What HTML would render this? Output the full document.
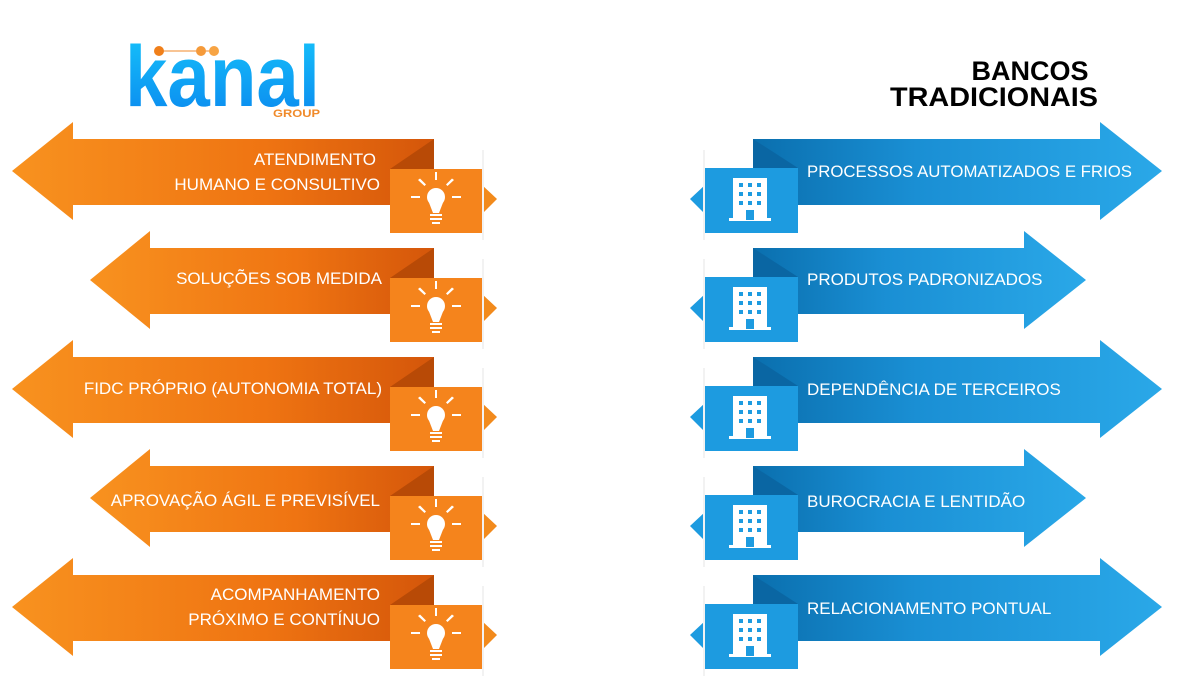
<!DOCTYPE html>
<html><head><meta charset="utf-8"><style>
html,body{margin:0;padding:0;background:#fff;width:1200px;height:700px;overflow:hidden}
svg{display:block}
text{font-family:"Liberation Sans",sans-serif}
</style></head><body>
<svg width="1200" height="700" viewBox="0 0 1200 700" xmlns="http://www.w3.org/2000/svg">
<defs>
<linearGradient id="og" x1="0" x2="1" y1="0" y2="0"><stop offset="0" stop-color="#f8921f"/><stop offset="0.6" stop-color="#ef7412"/><stop offset="1" stop-color="#d4560a"/></linearGradient>
<linearGradient id="bg" x1="0" x2="1" y1="0" y2="0"><stop offset="0" stop-color="#0a6fae"/><stop offset="0.4" stop-color="#1a8fd4"/><stop offset="1" stop-color="#2aa8e8"/></linearGradient>
<linearGradient id="lg" x1="0" x2="0" y1="0" y2="1"><stop offset="0" stop-color="#16c4fb"/><stop offset="1" stop-color="#0a86ee"/></linearGradient>
<g id="bulb" fill="#fff">
 <circle cx="436" cy="197" r="9"/>
 <path d="M428 200 L433 213 L439 213 L444 200 Z"/>
 <rect x="430" y="214" width="12" height="2"/><rect x="430" y="218" width="12" height="2"/><rect x="432" y="222" width="8" height="2"/>
 <rect x="435" y="172" width="2" height="8"/>
 <rect x="411" y="196" width="9" height="2"/><rect x="452" y="196" width="9" height="2"/>
 <path d="M418 180 l2 -1.5 l6 6 l-1.5 1.5 Z"/><path d="M454 180 l-2 -1.5 l-6 6 l1.5 1.5 Z"/>
</g>
<g id="bld" fill="#fff">
 <rect x="733" y="178" width="34" height="42"/><rect x="729" y="218" width="42" height="3"/>
</g>
<g id="win" fill="#1d9be0">
 <rect x="739" y="183" width="4" height="4"/><rect x="748" y="183" width="4" height="4"/><rect x="757" y="183" width="4" height="4"/>
 <rect x="739" y="192" width="4" height="4"/><rect x="748" y="192" width="4" height="4"/><rect x="757" y="192" width="4" height="4"/>
 <rect x="739" y="201" width="4" height="4"/><rect x="748" y="201" width="4" height="4"/><rect x="757" y="201" width="4" height="4"/>
 <rect x="746" y="210" width="8" height="10"/>
</g>
<g id="lbox">
 <path d="M434 139 L434 169 L390 169 Z" fill="#b84a06"/>
 <path d="M482 185 L497 199 L482 214 Z" fill="#f28a1c"/>
 <rect x="390" y="169" width="92" height="64" fill="#f5841c"/>
 <rect x="482" y="150" width="2" height="90" fill="#f2f2f2"/>
 <use href="#bulb"/>
</g>
<g id="rbox">
 <path d="M753 139 L753 168 L798 168 Z" fill="#0a66a3"/>
 <path d="M705 185 L690 199 L705 214 Z" fill="#1d9be0"/>
 <rect x="705" y="168" width="93" height="65" fill="#1d9be0"/>
 <rect x="703" y="150" width="2" height="90" fill="#f2f2f2"/>
 <use href="#bld"/><use href="#win"/>
</g>
</defs>

<text x="125" y="106" font-size="86" font-weight="bold" fill="url(#lg)" textLength="195" lengthAdjust="spacingAndGlyphs">kanal</text>
<line x1="159" y1="51" x2="214" y2="51" stroke="#f08a2a" stroke-width="1"/>
<circle cx="159" cy="51" r="5" fill="#f07f1a"/><circle cx="201" cy="51" r="5" fill="#f59a3a"/><circle cx="214" cy="51" r="5" fill="#f7a444"/>
<text x="273" y="117" font-size="11" font-weight="bold" fill="#f08a2a" textLength="47" lengthAdjust="spacingAndGlyphs">GROUP</text>

<text x="1030" y="80" font-size="27" font-weight="bold" fill="#000" text-anchor="middle">BANCOS</text>
<text x="994" y="106" font-size="27" font-weight="bold" fill="#000" text-anchor="middle" textLength="208" lengthAdjust="spacingAndGlyphs">TRADICIONAIS</text>

<g>
<path d="M12 171 L73 122 L73 139 L434 139 L434 205 L73 205 L73 220 Z" fill="url(#og)"/>
<use href="#lbox"/>
</g>
<g transform="translate(0,109)">
<path d="M90 171 L150 122 L150 139 L434 139 L434 205 L150 205 L150 220 Z" fill="url(#og)"/>
<use href="#lbox"/>
</g>
<g transform="translate(0,218)">
<path d="M12 171 L73 122 L73 139 L434 139 L434 205 L73 205 L73 220 Z" fill="url(#og)"/>
<use href="#lbox"/>
</g>
<g transform="translate(0,327)">
<path d="M90 171 L150 122 L150 139 L434 139 L434 205 L150 205 L150 220 Z" fill="url(#og)"/>
<use href="#lbox"/>
</g>
<g transform="translate(0,436)">
<path d="M12 171 L73 122 L73 139 L434 139 L434 205 L73 205 L73 220 Z" fill="url(#og)"/>
<use href="#lbox"/>
</g>

<g fill="#fff" font-size="17" text-anchor="end">
<text x="376" y="165">ATENDIMENTO</text>
<text x="380" y="190">HUMANO E CONSULTIVO</text>
<text x="382" y="284">SOLUÇÕES SOB MEDIDA</text>
<text x="382" y="394">FIDC PRÓPRIO (AUTONOMIA TOTAL)</text>
<text x="380" y="506">APROVAÇÃO ÁGIL E PREVISÍVEL</text>
<text x="380" y="600">ACOMPANHAMENTO</text>
<text x="380" y="625">PRÓXIMO E CONTÍNUO</text>
</g>

<g>
<path d="M753 139 L1100 139 L1100 122 L1162 171 L1100 220 L1100 205 L753 205 Z" fill="url(#bg)"/>
<use href="#rbox"/>
</g>
<g transform="translate(0,109)">
<path d="M753 139 L1024 139 L1024 122 L1086 171 L1024 220 L1024 205 L753 205 Z" fill="url(#bg)"/>
<use href="#rbox"/>
</g>
<g transform="translate(0,218)">
<path d="M753 139 L1100 139 L1100 122 L1162 171 L1100 220 L1100 205 L753 205 Z" fill="url(#bg)"/>
<use href="#rbox"/>
</g>
<g transform="translate(0,327)">
<path d="M753 139 L1024 139 L1024 122 L1086 171 L1024 220 L1024 205 L753 205 Z" fill="url(#bg)"/>
<use href="#rbox"/>
</g>
<g transform="translate(0,436)">
<path d="M753 139 L1100 139 L1100 122 L1162 171 L1100 220 L1100 205 L753 205 Z" fill="url(#bg)"/>
<use href="#rbox"/>
</g>

<g fill="#fff" font-size="17">
<text x="807" y="177" textLength="325" lengthAdjust="spacingAndGlyphs">PROCESSOS AUTOMATIZADOS E FRIOS</text>
<text x="807" y="285">PRODUTOS PADRONIZADOS</text>
<text x="807" y="395">DEPENDÊNCIA DE TERCEIROS</text>
<text x="807" y="507">BUROCRACIA E LENTIDÃO</text>
<text x="807" y="614">RELACIONAMENTO PONTUAL</text>
</g>
</svg>
</body></html>
